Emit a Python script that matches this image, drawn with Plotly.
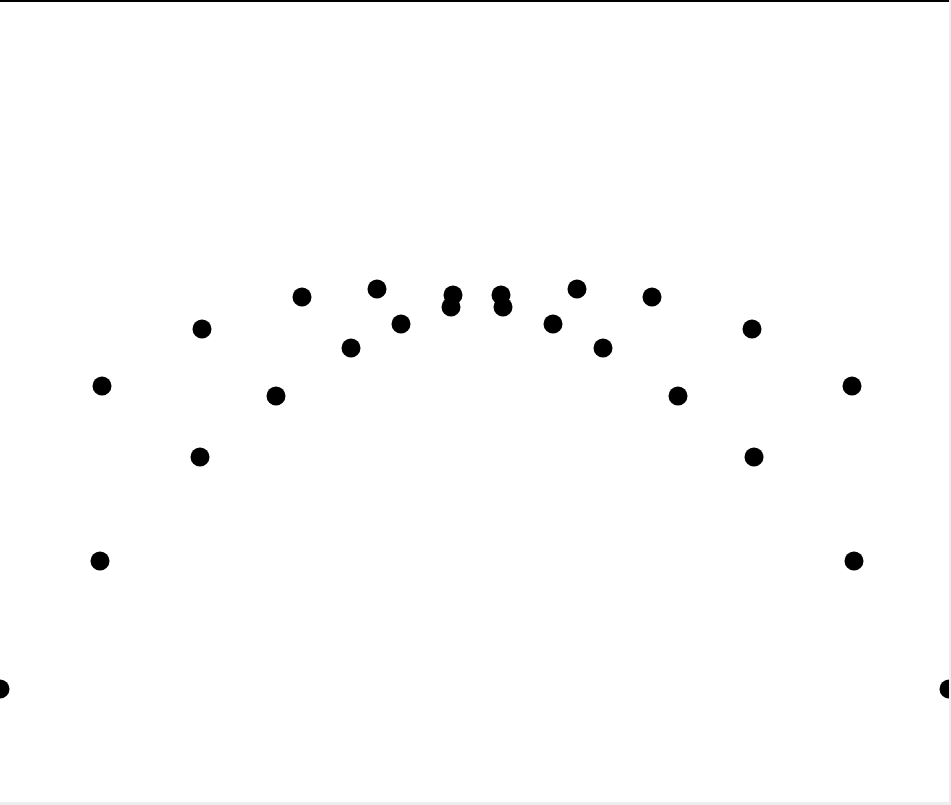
import plotly.graph_objects as go

x_vals = [0, 100, 102, 200, 202, 276, 302, 351, 377, 401, 451, 453,
          501, 503, 553, 577, 603, 652, 678, 752, 754, 852, 854, 949]
y_vals = [113, 241, 416, 345, 473, 406, 505, 454, 513, 478, 495, 507,
          507, 495, 478, 513, 454, 505, 406, 473, 345, 416, 241, 113]

fig = go.Figure(go.Scatter(
    x=x_vals, y=y_vals, mode="markers",
    marker=dict(color="black", size=19, line=dict(width=0)),
    cliponaxis=True, hoverinfo="skip",
))

fig.update_layout(
    width=951, height=805,
    margin=dict(l=0, r=2, t=2, b=3, pad=0),
    paper_bgcolor="#eeeeee",
    plot_bgcolor="white",
    showlegend=False,
)
fig.update_xaxes(range=[0, 949], showgrid=False, zeroline=False,
                 showticklabels=False, ticks="", side="top",
                 showline=True, linecolor="black", linewidth=2)
fig.update_yaxes(range=[0, 800], showgrid=False, zeroline=False,
                 showticklabels=False, ticks="", showline=False)

fig.write_html("out.html", config={"displayModeBar": False})
